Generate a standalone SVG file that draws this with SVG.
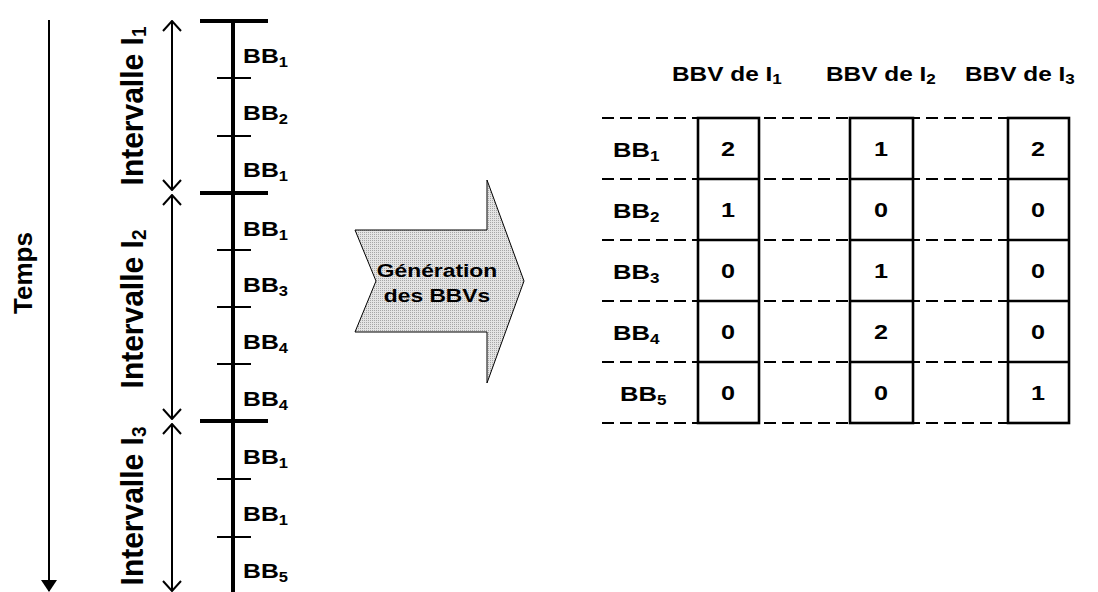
<svg xmlns="http://www.w3.org/2000/svg" width="1098" height="592" viewBox="0 0 1098 592">
<style>
.t{font-family:"Liberation Sans",Arial,sans-serif;font-weight:bold;fill:#000}
.bb{font-size:21px}
.iv{font-size:30px}
.hd{font-size:20px}
.num{font-size:21px;text-anchor:middle}
.gen{font-size:19px;text-anchor:middle}
.s{font-size:14px}
.thick{stroke:#000;stroke-width:4;fill:none}
.tick{stroke:#000;stroke-width:2;fill:none}
.ln{stroke:#000;stroke-width:2;fill:none}
.dash{stroke:#000;stroke-width:1.8;stroke-dasharray:12 6;fill:none}
.box{stroke:#000;stroke-width:2.6;fill:none}
</style>
<defs>
<marker id="open" viewBox="0 0 12 20" refX="11" refY="10" markerWidth="12" markerHeight="20" markerUnits="userSpaceOnUse" orient="auto-start-reverse">
<path d="M1,1 L11,10 L1,19" fill="none" stroke="#000" stroke-width="2"/>
</marker>
<marker id="filled" viewBox="0 0 12 16" refX="11" refY="8" markerWidth="12" markerHeight="16" markerUnits="userSpaceOnUse" orient="auto">
<path d="M0,0 L12,8 L0,16 Z" fill="#000"/>
</marker>
<pattern id="stip" width="2" height="2" patternUnits="userSpaceOnUse">
<rect width="2" height="2" fill="#e4e4e4"/>
<rect width="1" height="1" fill="#a6a6a6"/>
</pattern>
</defs>

<g id="connectors">
<line id="temps-arrow" x1="49" y1="20" x2="49" y2="591" class="ln" marker-end="url(#filled)"/>
<line id="i1-arrow" x1="172" y1="21" x2="172" y2="190" class="ln" marker-start="url(#open)" marker-end="url(#open)"/>
<line id="i2-arrow" x1="172" y1="195" x2="172" y2="419" class="ln" marker-start="url(#open)" marker-end="url(#open)"/>
<line id="i3-arrow" x1="172" y1="424" x2="172" y2="591" class="ln" marker-start="url(#open)" marker-end="url(#open)"/>
</g>

<g id="temps-label">
<text class="t" font-size="26" text-anchor="middle" transform="translate(32,273) rotate(-90)">Temps</text>
</g>

<g id="intervalle-labels">
<text class="t iv" text-anchor="middle" transform="translate(143,106) scale(1.07,1) rotate(-90)">Intervalle I<tspan font-size="19" dy="3">1</tspan></text>
<text class="t iv" text-anchor="middle" transform="translate(143,309) scale(1.07,1) rotate(-90)">Intervalle I<tspan font-size="19" dy="3">2</tspan></text>
<text class="t iv" text-anchor="middle" transform="translate(143,506) scale(1.07,1) rotate(-90)">Intervalle I<tspan font-size="19" dy="3">3</tspan></text>
</g>

<g id="timeline">
<line x1="233" y1="19" x2="233" y2="592" class="thick"/>
<line x1="200" y1="21" x2="268" y2="21" class="thick"/>
<line x1="200" y1="193" x2="268" y2="193" class="thick"/>
<line x1="200" y1="421" x2="268" y2="421" class="thick"/>
<line x1="217" y1="78" x2="251" y2="78" class="tick"/>
<line x1="217" y1="136" x2="251" y2="136" class="tick"/>
<line x1="217" y1="250" x2="251" y2="250" class="tick"/>
<line x1="217" y1="307" x2="251" y2="307" class="tick"/>
<line x1="217" y1="364" x2="251" y2="364" class="tick"/>
<line x1="217" y1="479" x2="251" y2="479" class="tick"/>
<line x1="217" y1="537" x2="251" y2="537" class="tick"/>
</g>

<g id="timeline-labels">
<text class="t bb" transform="translate(243,63) scale(1.18,1)">BB<tspan class="s" dy="4">1</tspan></text>
<text class="t bb" transform="translate(243,120) scale(1.18,1)">BB<tspan class="s" dy="4">2</tspan></text>
<text class="t bb" transform="translate(243,177) scale(1.18,1)">BB<tspan class="s" dy="4">1</tspan></text>
<text class="t bb" transform="translate(243,236) scale(1.18,1)">BB<tspan class="s" dy="4">1</tspan></text>
<text class="t bb" transform="translate(243,292) scale(1.18,1)">BB<tspan class="s" dy="4">3</tspan></text>
<text class="t bb" transform="translate(243,349) scale(1.18,1)">BB<tspan class="s" dy="4">4</tspan></text>
<text class="t bb" transform="translate(243,406) scale(1.18,1)">BB<tspan class="s" dy="4">4</tspan></text>
<text class="t bb" transform="translate(243,464) scale(1.18,1)">BB<tspan class="s" dy="4">1</tspan></text>
<text class="t bb" transform="translate(243,521) scale(1.18,1)">BB<tspan class="s" dy="4">1</tspan></text>
<text class="t bb" transform="translate(243,578) scale(1.18,1)">BB<tspan class="s" dy="4">5</tspan></text>
</g>

<g id="generation-arrow">
<path d="M355,230 L487,230 L487,180 L524,281 L487,383 L487,332 L355,332 L376,281 Z" fill="url(#stip)" stroke="#000" stroke-width="1"/>
<text class="t gen" transform="translate(437,277) scale(1.2,1)">Génération</text>
<text class="t gen" transform="translate(437,302) scale(1.2,1)">des BBVs</text>
</g>

<g id="headers">
<text class="t hd" transform="translate(672,81) scale(1.22,1)">BBV de I<tspan class="s" font-size="13" dy="3">1</tspan></text>
<text class="t hd" transform="translate(826,81) scale(1.22,1)">BBV de I<tspan class="s" font-size="13" dy="3">2</tspan></text>
<text class="t hd" transform="translate(965,81) scale(1.22,1)">BBV de I<tspan class="s" font-size="13" dy="3">3</tspan></text>
</g>

<g id="row-lines">
<line x1="602" y1="118" x2="1008" y2="118" class="dash"/>
<line x1="602" y1="179" x2="1008" y2="179" class="dash"/>
<line x1="602" y1="240" x2="1008" y2="240" class="dash"/>
<line x1="602" y1="301" x2="1008" y2="301" class="dash"/>
<line x1="602" y1="362" x2="1008" y2="362" class="dash"/>
<line x1="602" y1="423" x2="1008" y2="423" class="dash"/>
</g>

<g id="row-labels">
<text class="t bb" transform="translate(613,157) scale(1.22,1)">BB<tspan class="s" dy="4">1</tspan></text>
<text class="t bb" transform="translate(613,218) scale(1.22,1)">BB<tspan class="s" dy="4">2</tspan></text>
<text class="t bb" transform="translate(613,279) scale(1.22,1)">BB<tspan class="s" dy="4">3</tspan></text>
<text class="t bb" transform="translate(613,340) scale(1.22,1)">BB<tspan class="s" dy="4">4</tspan></text>
<text class="t bb" transform="translate(620,401) scale(1.22,1)">BB<tspan class="s" dy="4">5</tspan></text>
</g>

<g id="bbv-i1">
<rect x="698" y="118" width="61" height="305" fill="#fff" class="box"/>
<line x1="698" y1="179" x2="759" y2="179" class="box"/>
<line x1="698" y1="240" x2="759" y2="240" class="box"/>
<line x1="698" y1="301" x2="759" y2="301" class="box"/>
<line x1="698" y1="362" x2="759" y2="362" class="box"/>
<text class="t num" transform="translate(728,156) scale(1.2,1)">2</text>
<text class="t num" transform="translate(728,217) scale(1.2,1)">1</text>
<text class="t num" transform="translate(728,278) scale(1.2,1)">0</text>
<text class="t num" transform="translate(728,339) scale(1.2,1)">0</text>
<text class="t num" transform="translate(728,400) scale(1.2,1)">0</text>
</g>

<g id="bbv-i2">
<rect x="850" y="118" width="63" height="305" fill="#fff" class="box"/>
<line x1="850" y1="179" x2="913" y2="179" class="box"/>
<line x1="850" y1="240" x2="913" y2="240" class="box"/>
<line x1="850" y1="301" x2="913" y2="301" class="box"/>
<line x1="850" y1="362" x2="913" y2="362" class="box"/>
<text class="t num" transform="translate(881,156) scale(1.2,1)">1</text>
<text class="t num" transform="translate(881,217) scale(1.2,1)">0</text>
<text class="t num" transform="translate(881,278) scale(1.2,1)">1</text>
<text class="t num" transform="translate(881,339) scale(1.2,1)">2</text>
<text class="t num" transform="translate(881,400) scale(1.2,1)">0</text>
</g>

<g id="bbv-i3">
<rect x="1008" y="118" width="61" height="305" fill="#fff" class="box"/>
<line x1="1008" y1="179" x2="1069" y2="179" class="box"/>
<line x1="1008" y1="240" x2="1069" y2="240" class="box"/>
<line x1="1008" y1="301" x2="1069" y2="301" class="box"/>
<line x1="1008" y1="362" x2="1069" y2="362" class="box"/>
<text class="t num" transform="translate(1038,156) scale(1.2,1)">2</text>
<text class="t num" transform="translate(1038,217) scale(1.2,1)">0</text>
<text class="t num" transform="translate(1038,278) scale(1.2,1)">0</text>
<text class="t num" transform="translate(1038,339) scale(1.2,1)">0</text>
<text class="t num" transform="translate(1038,400) scale(1.2,1)">1</text>
</g>
</svg>
